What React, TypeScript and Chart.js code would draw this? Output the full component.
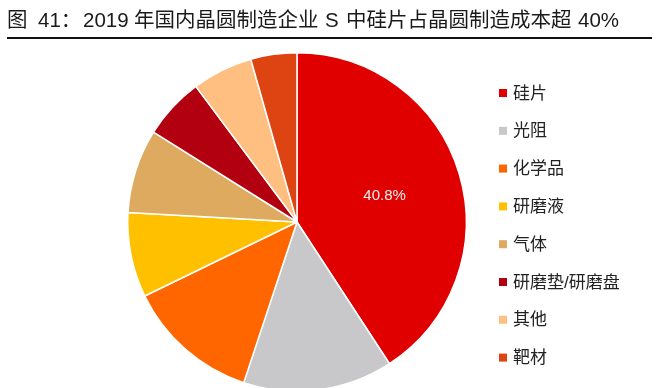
import React, { useEffect, useRef } from "react";
import { Chart, registerables } from "chart.js";

Chart.register(...registerables);

const titleParts = ["图", "41：", "2019", "年国内晶圆制造企业", "S", "中硅片占晶圆制造成本超", "40%"];
const titleStarts = [7, 38, 83, 134, 325, 346, 578];
const categories = ["硅片", "光阻", "化学品", "研磨液", "气体", "研磨垫/研磨盘", "其他", "靶材"];
const shares = [40.8, 14.3, 12.7, 8.1, 8.0, 5.9, 5.8, 4.4];
const colors = ["#E00000", "#C8C8CA", "#FF6600", "#FFC000", "#DDAA60", "#B30010", "#FFBF80", "#DD4411"];
const labelShown = [true, false, false, false, false, false, false, false];

const FONT = '"Liberation Sans", "Noto Sans CJK SC", sans-serif';

export default function App() {
  const ref = useRef<HTMLCanvasElement | null>(null);
  useEffect(() => {
    document.body.style.margin = "0";
    document.body.style.overflow = "hidden";
    const canvas = ref.current!;
    const overlay = {
      id: "overlay",
      afterDraw(chart: any) {
        const ctx = chart.ctx as CanvasRenderingContext2D;
        ctx.save();
        // title
        ctx.fillStyle = "#1a1a1a";
        ctx.font = `20.5px ${FONT}`;
        ctx.textBaseline = "middle";
        ctx.textAlign = "left";
        titleParts.forEach((t, i) => ctx.fillText(t, titleStarts[i], 21));
        ctx.fillStyle = "#111";
        ctx.fillRect(7, 37, 645, 2);
        // legend
        ctx.font = `17px ${FONT}`;
        categories.forEach((c, i) => {
          const y = 93 + i * 37.8;
          ctx.fillStyle = colors[i];
          ctx.fillRect(499, y - 4, 8, 8);
          ctx.fillStyle = "#222";
          ctx.fillText(c, 513, y + 1);
        });
        // data labels
        const meta = chart.getDatasetMeta(0);
        meta.data.forEach((arc: any, i: number) => {
          if (!labelShown[i]) return;
          const p = arc.getProps(["x", "y", "startAngle", "endAngle", "outerRadius"], true);
          const mid = (p.startAngle + p.endAngle) / 2;
          const r = p.outerRadius * 0.54;
          ctx.fillStyle = "#f4f0f0";
          ctx.font = `15px ${FONT}`;
          ctx.textAlign = "center";
          ctx.fillText(shares[i].toFixed(1) + "%", p.x + Math.cos(mid) * r, p.y + Math.sin(mid) * r);
        });
        ctx.restore();
      },
    };
    const chart = new Chart(canvas, {
      type: "pie",
      data: {
        labels: categories,
        datasets: [
          {
            data: shares,
            backgroundColor: colors,
            borderColor: "#ffffff",
            borderWidth: 1.5,
          },
        ],
      },
      options: {
        animation: false,
        responsive: false,
        maintainAspectRatio: false,
        layout: { padding: { left: 127, right: 189, top: 52, bottom: 28 } },
        plugins: {
          legend: { display: false },
          tooltip: { enabled: false },
          title: { display: false },
        },
      },
      plugins: [overlay],
    });
    return () => chart.destroy();
  }, []);
  return (
    <div style={{ width: 656, height: 388, overflow: "hidden", background: "#fff" }}>
      <canvas ref={ref} width={656} height={420} style={{ display: "block", width: 656, height: 420 }} />
    </div>
  );
}
